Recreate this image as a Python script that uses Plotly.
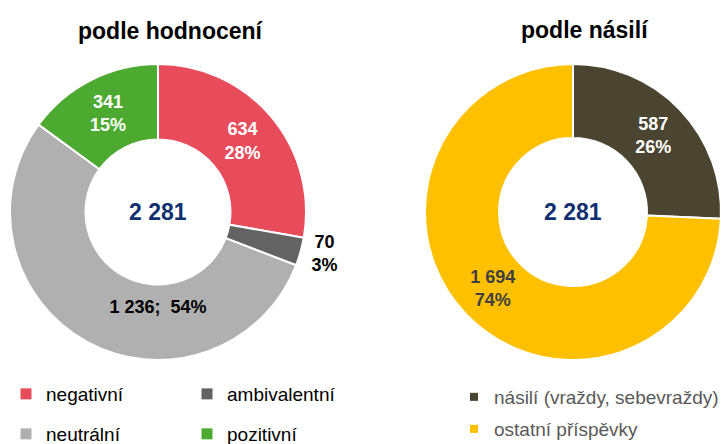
import plotly.graph_objects as go

# ---- data ----
left_title = "podle hodnocení"
left_labels = ["negativní", "ambivalentní", "neutrální", "pozitivní"]
left_values = [634, 70, 1236, 341]
left_colors = ["#E84B5A", "#636363", "#B0B0B0", "#4DAA30"]

right_title = "podle násilí"
right_labels = ["násilí (vraždy, sebevraždy)", "ostatní příspěvky"]
right_values = [587, 1694]
right_colors = ["#4A4431", "#FFC000"]

total_label = "2 281"

W, H = 726, 444
FONT = "Liberation Sans, Arial, sans-serif"

fig = go.Figure()

ldom_x = [10 / W, 306 / W]
rdom_x = [425 / W, 721 / W]
dom_y = [(H - 360) / H, (H - 64) / H]

fig.add_trace(go.Pie(
    labels=left_labels, values=left_values, sort=False, direction="clockwise",
    rotation=0, hole=0.49, domain=dict(x=ldom_x, y=dom_y),
    marker=dict(colors=left_colors, line=dict(color="white", width=2)),
    texttemplate=["%{value:,}<br>%{percent:.0%}", "%{value:,}<br>%{percent:.0%}",
                  "%{value:,};\u00a0 %{percent:.0%}", "%{value:,}<br>%{percent:.0%}"],
    textposition=["inside", "outside", "inside", "inside"],
    insidetextorientation="horizontal",
    textfont=dict(family=FONT, size=18, weight="bold",
                  color=["white", "black", "black", "white"]),
    showlegend=False, hoverinfo="label+value+percent",
))

fig.add_trace(go.Pie(
    labels=right_labels, values=right_values, sort=False, direction="clockwise",
    rotation=0, hole=0.5, domain=dict(x=rdom_x, y=dom_y),
    marker=dict(colors=right_colors, line=dict(color="white", width=2)),
    texttemplate="%{value:,}<br>%{percent:.0%}",
    textposition="inside", insidetextorientation="horizontal",
    textfont=dict(family=FONT, size=18, weight="bold",
                  color=["white", "#404040"]),
    showlegend=False, hoverinfo="label+value+percent",
))

# legend entries (one legend per entry to mimic the layout)
left_leg_pos = [(6 / W, (H - 394) / H), (187 / W, (H - 394) / H),
                (6 / W, (H - 434) / H), (187 / W, (H - 434) / H)]
right_leg_pos = [(454 / W, (H - 397) / H), (454 / W, (H - 429) / H)]

legends = {}
n = 1
for lab, col, (lx, ly) in zip(left_labels, left_colors, left_leg_pos):
    name = "legend" if n == 1 else f"legend{n}"
    fig.add_trace(go.Scatter(x=[None], y=[None], mode="markers", name=lab,
                             marker=dict(symbol="square", size=11, color=col),
                             legend=name, showlegend=True))
    legends[name] = dict(x=lx, y=ly, xanchor="left", yanchor="middle",
                         bgcolor="rgba(0,0,0,0)",
                         font=dict(family=FONT, size=19, color="black"))
    n += 1
for lab, col, (lx, ly) in zip(right_labels, right_colors, right_leg_pos):
    name = f"legend{n}"
    fig.add_trace(go.Scatter(x=[None], y=[None], mode="markers", name=lab,
                             marker=dict(symbol="square", size=8, color=col),
                             legend=name, showlegend=True))
    legends[name] = dict(x=lx, y=ly, xanchor="left", yanchor="middle",
                         bgcolor="rgba(0,0,0,0)",
                         font=dict(family=FONT, size=19, color="#595959"))
    n += 1

def ann(text, x, y, size, color):
    return dict(text=text, x=x, y=y, xref="paper", yref="paper",
                xanchor="center", yanchor="middle", showarrow=False,
                font=dict(family=FONT, size=size, color=color))

annotations = [
    ann(f"<b>{left_title}</b>", 171 / W, (H - 31) / H, 23, "black"),
    ann(f"<b>{right_title}</b>", 585 / W, (H - 30) / H, 23, "black"),
    ann(f"<b>{total_label}</b>", sum(ldom_x) / 2, sum(dom_y) / 2, 23, "#12306F"),
    ann(f"<b>{total_label}</b>", sum(rdom_x) / 2, sum(dom_y) / 2, 23, "#12306F"),
]

fig.update_layout(
    width=W, height=H, margin=dict(l=0, r=0, t=0, b=0, pad=0, autoexpand=False),
    paper_bgcolor="white", plot_bgcolor="white",
    separators=", ",
    xaxis=dict(visible=False), yaxis=dict(visible=False),
    annotations=annotations,
    font=dict(family=FONT),
    **legends,
)

fig.write_html("out.html", config={"displayModeBar": False},
               post_script="document.body.style.margin='0';document.body.style.overflow='hidden';")
